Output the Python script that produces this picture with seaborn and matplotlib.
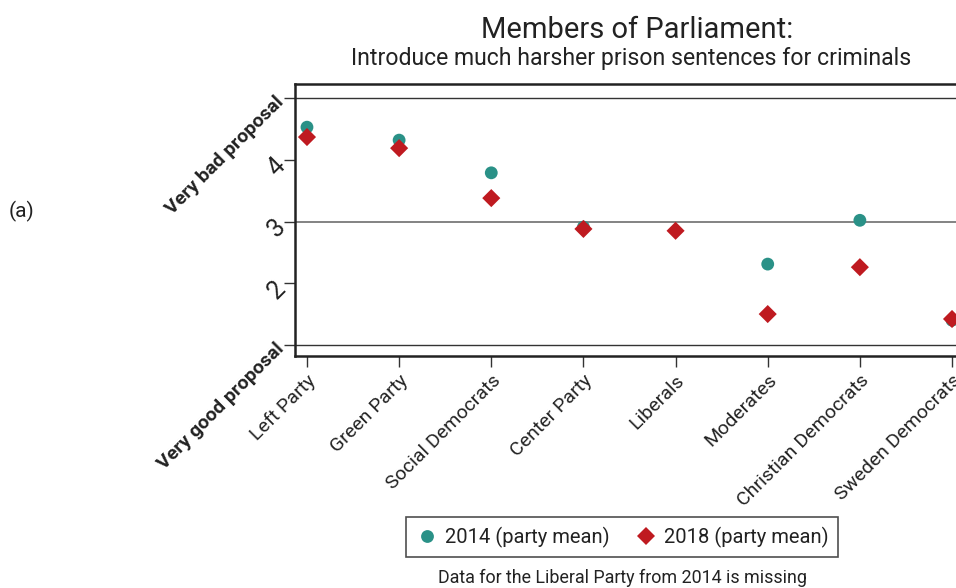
import matplotlib
matplotlib.use("Agg")
import matplotlib.pyplot as plt
import seaborn as sns
import pandas as pd
import numpy as np

parties = ["Left Party", "Green Party", "Social Democrats", "Center Party",
           "Liberals", "Moderates", "Christian Democrats", "Sweden Democrats"]
mean_2014 = [4.53, 4.32, 3.79, 2.91, np.nan, 2.31, 3.02, 1.40]
mean_2018 = [4.37, 4.19, 3.38, 2.88, 2.85, 1.50, 2.26, 1.42]
ytick_vals = [1, 2, 3, 4, 5]
ytick_labels = ["Very good proposal", "2", "3", "4", "Very bad proposal"]
series_labels = ["2014 (party mean)", "2018 (party mean)"]

sns.set_theme(style="white")
plt.rcParams['font.family'] = ['Roboto', 'DejaVu Sans']

df = pd.DataFrame({
    "party": parties * 2,
    "x": list(range(len(parties))) * 2,
    "value": mean_2014 + mean_2018,
    "series": [series_labels[0]] * len(parties) + [series_labels[1]] * len(parties),
}).dropna()

fig = plt.figure(figsize=(9.56, 5.88), dpi=100)
ax = fig.add_axes([295/956, 1 - 356/588, (964-295)/956, (356-84)/588])

for yv in [1, 3, 5]:
    ax.axhline(yv, color="#7a7a7a" if yv == 3 else "#333333", lw=1.3 if yv == 3 else 1.0, zorder=1)

sns.scatterplot(data=df, x="x", y="value", hue="series", style="series",
                palette={series_labels[0]: "#2a9187", series_labels[1]: "#bf1a20"},
                markers={series_labels[0]: "o", series_labels[1]: "D"},
                s=85, linewidth=0, ax=ax, zorder=3, legend=True)
ax.set_xlim(-0.13, 7.13)
ax.set_ylim(0.82, 5.23)
ax.set_xticks(range(len(parties)))
ax.set_xticklabels(parties, rotation=45, ha="right", rotation_mode="anchor", fontsize=14, color="#222222")
ax.set_yticks(ytick_vals)
ax.set_yticklabels(ytick_labels, rotation=45, ha="right", rotation_mode="anchor", fontsize=14, color="#222222")
for lab in ax.get_yticklabels():
    if lab.get_text().startswith("Very"):
        lab.set_fontweight("bold")
    else:
        lab.set_fontsize(18)
ax.tick_params(axis="both", which="both", length=8, width=1, color="#333333", pad=3,
               left=True, bottom=True)
ax.set_xlabel("")
ax.set_ylabel("")
for s in ax.spines.values():
    s.set_linewidth(1.8)
    s.set_color("#222222")

handles, labels = ax.get_legend_handles_labels()
ax.get_legend().remove()
leg = fig.legend(handles, labels, loc="center", bbox_to_anchor=(622/956, 1 - 537/588),
                 ncol=2, frameon=True, fancybox=False, edgecolor="#222222", fontsize=14.5,
                 handletextpad=0.3, columnspacing=1.2, borderpad=0.45, handlelength=1.2)
leg.get_frame().set_linewidth(1.2)
for t in leg.get_texts():
    t.set_color("#222222")

fig.text(637/956, 1 - 30/588, "Members of Parliament:", ha="center", va="center", fontsize=21, color="#222222")
fig.text(631/956, 1 - 59/588, "Introduce much harsher prison sentences for criminals", ha="center", va="center",
         fontsize=16.6, color="#222222")
fig.text(622/956, 1 - 578/588, "Data for the Liberal Party from 2014 is missing", ha="center", va="center",
         fontsize=12.9, color="#222222")
fig.text(22/956, 1 - 211/588, "(a)", ha="center", va="center", fontsize=15, color="#222222")

fig.savefig("out.png", dpi=100)
